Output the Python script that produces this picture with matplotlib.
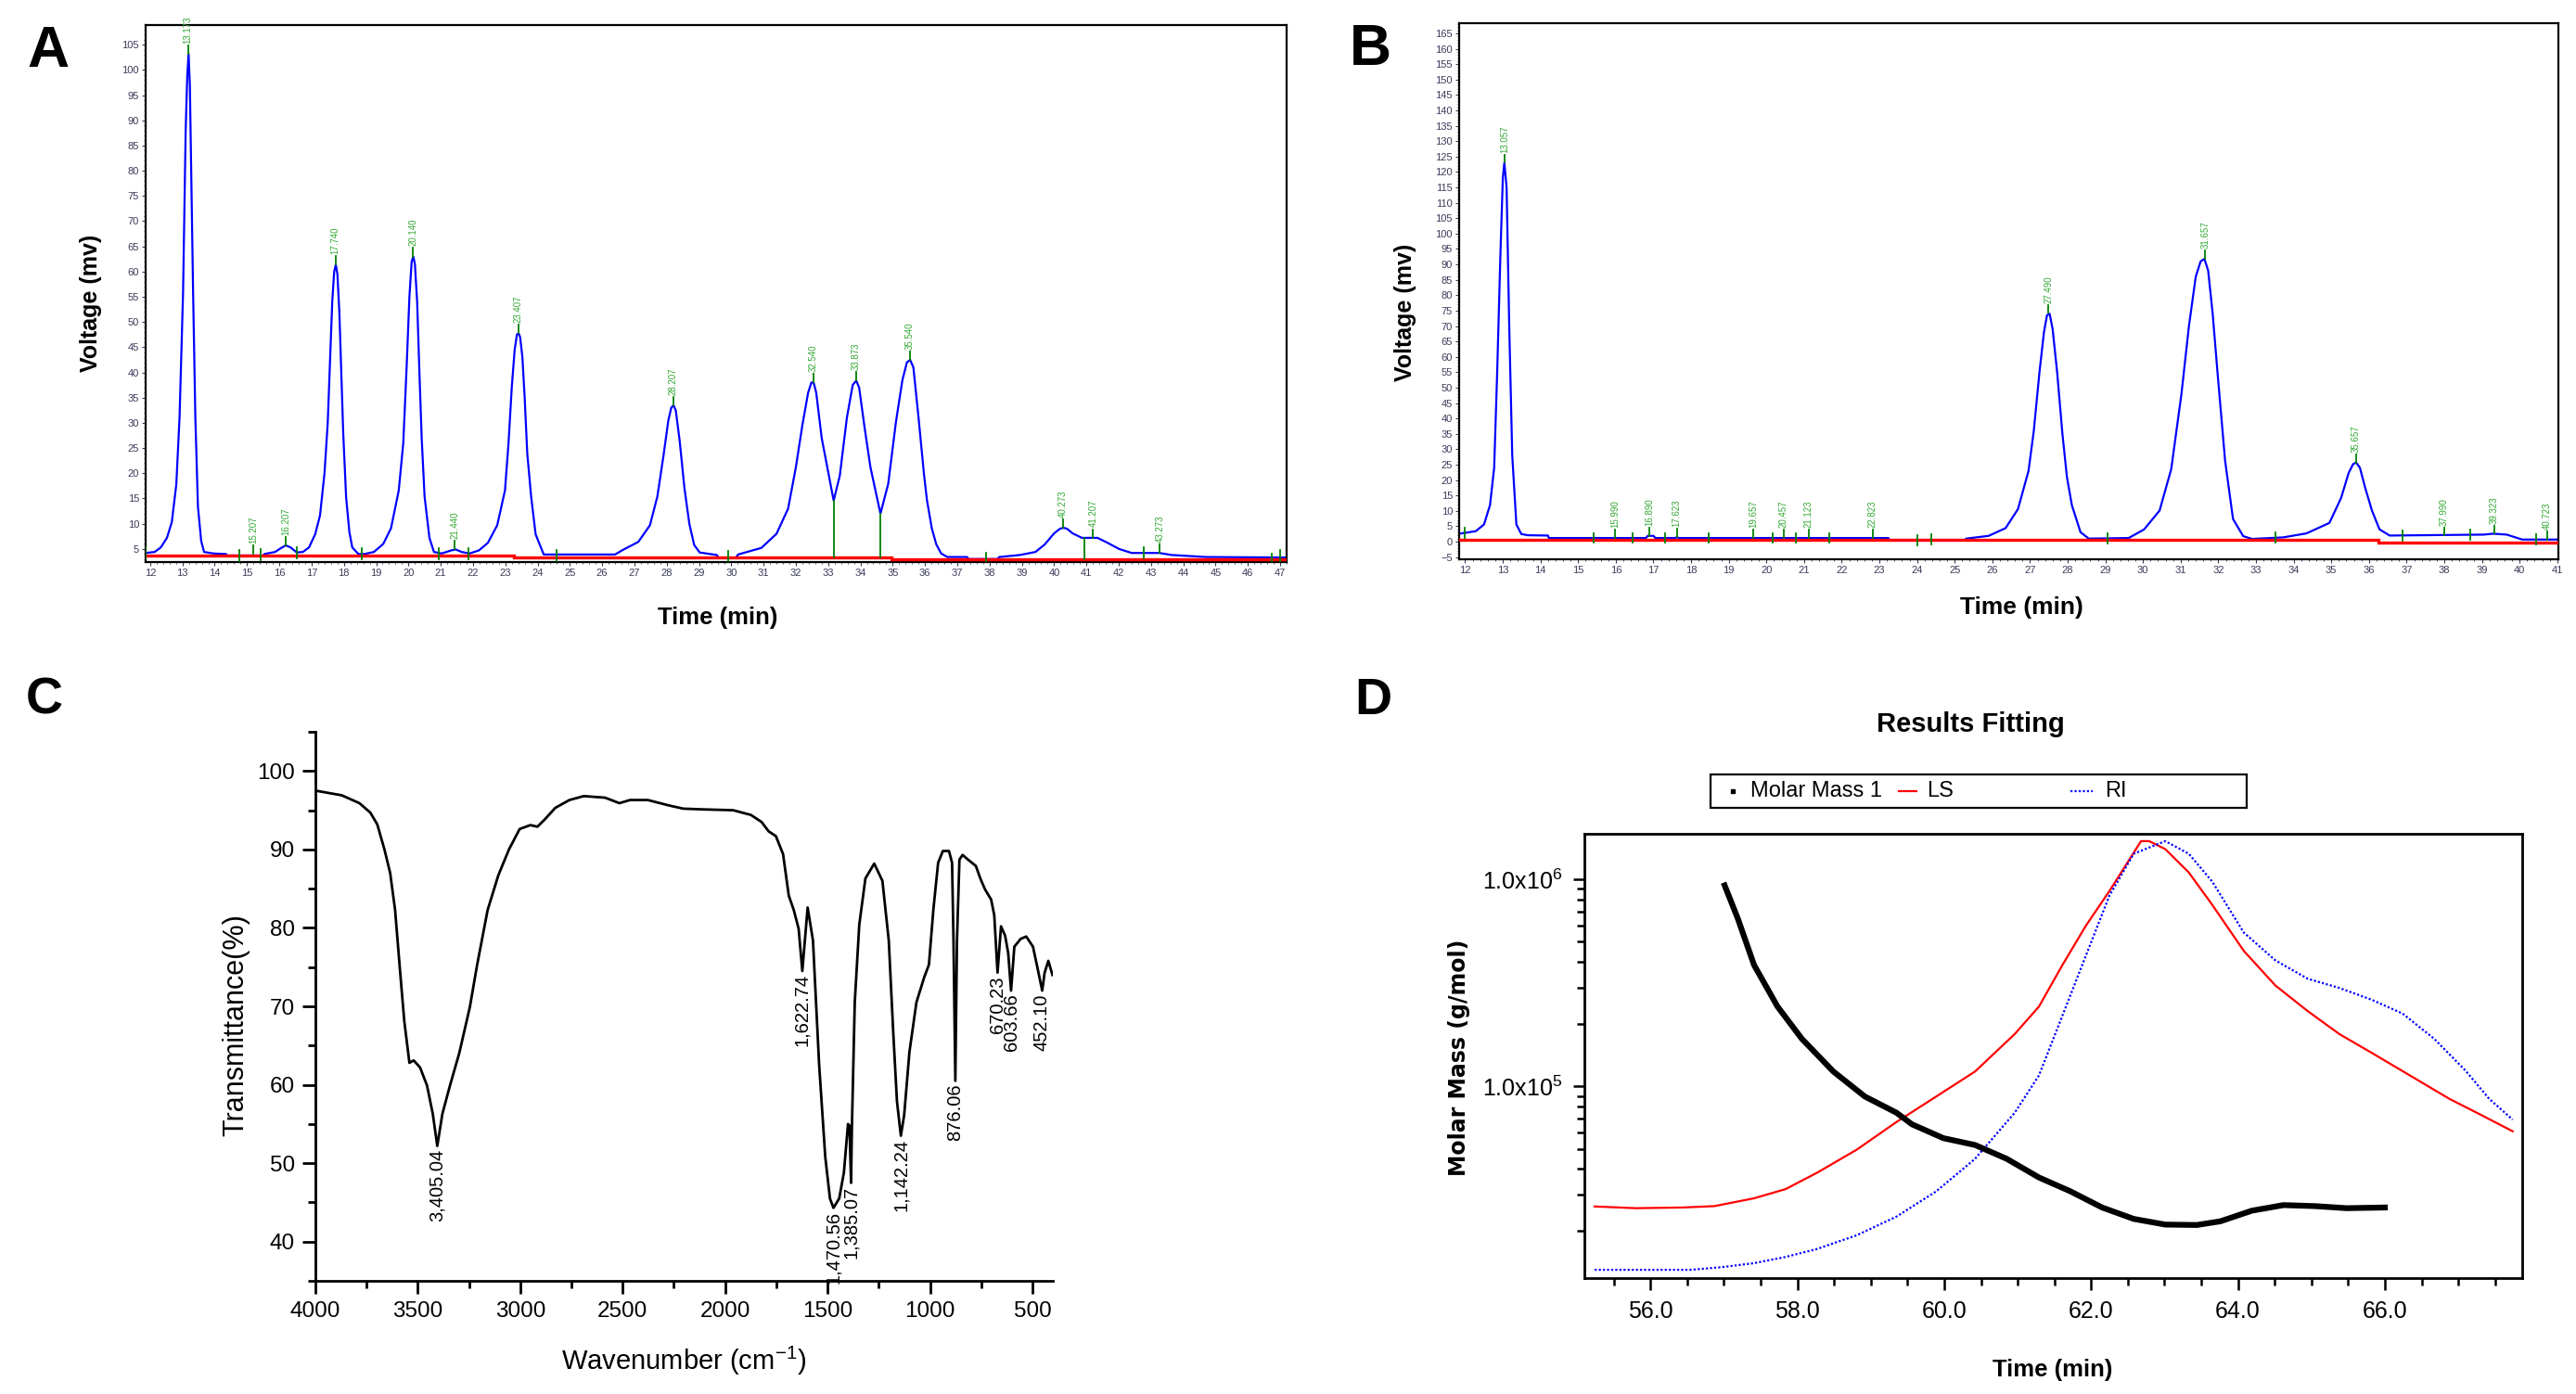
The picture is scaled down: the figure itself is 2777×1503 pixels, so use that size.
import numpy as np
import matplotlib
matplotlib.use("Agg")
import matplotlib.pyplot as plt
from matplotlib.lines import Line2D
from matplotlib.patches import Rectangle
from matplotlib.ticker import FixedLocator, MultipleLocator, NullFormatter

REG = "Liberation Sans"
plt.rcParams["font.family"] = [REG, "DejaVu Sans"]
plt.rcParams["mathtext.fontset"] = "custom"
plt.rcParams["mathtext.rm"] = REG
plt.rcParams["mathtext.it"] = REG

# ---------------- panel A : chromatogram 1 ----------------
a_time = [11.86, 12.14, 12.33, 12.52, 12.67, 12.81, 12.91, 13.02, 13.10, 13.15, 13.19, 13.23, 13.26, 13.33,
          13.40, 13.48, 13.58, 13.67, 13.96, 14.34, 14.40, 15.50, 15.54, 15.87, 16.06, 16.20, 16.35, 16.54,
          16.73, 16.92, 17.11, 17.26, 17.40, 17.50, 17.57, 17.64, 17.70, 17.75, 17.80, 17.86, 17.92, 17.98,
          18.07, 18.17, 18.26, 18.45, 18.64, 18.93, 19.22, 19.46, 19.70, 19.84, 19.95, 20.03, 20.10, 20.15,
          20.20, 20.27, 20.34, 20.41, 20.50, 20.65, 20.79, 21.03, 21.32, 21.46, 21.65, 21.89, 22.18, 22.46,
          22.75, 22.99, 23.10, 23.20, 23.29, 23.36, 23.41, 23.46, 23.53, 23.60, 23.68, 23.80, 23.94, 24.19,
          26.40, 26.64, 27.12, 27.48, 27.71, 27.90, 28.05, 28.14, 28.21, 28.28, 28.40, 28.55, 28.70, 28.85,
          29.02, 29.55, 29.60, 30.15, 30.21, 30.93, 31.40, 31.76, 32.00, 32.20, 32.38, 32.48, 32.55, 32.63,
          32.80, 33.00, 33.17, 33.36, 33.58, 33.76, 33.87, 33.96, 34.13, 34.31, 34.62, 34.86, 35.10, 35.30,
          35.44, 35.54, 35.64, 35.80, 35.97, 36.06, 36.21, 36.35, 36.50, 36.69, 37.30, 37.35, 38.25, 38.30,
          38.94, 39.42, 39.71, 40.00, 40.18, 40.29, 40.40, 40.57, 40.86, 41.34, 41.63, 42.01, 42.40, 43.26,
          43.64, 44.70, 47.20]
a_volt = [4.2, 4.4, 5.3, 7.2, 10.3, 17.8, 31.0, 56.0, 88.0, 99.0, 103.2, 97.0, 85.0, 56.0,
          31.0, 13.4, 6.6, 4.4, 4.1, 4.0, 3.7, 3.7, 4.0, 4.4, 5.2, 5.7, 5.3, 4.3,
          4.4, 5.3, 7.9, 11.6, 20.0, 30.0, 42.0, 54.0, 60.0, 61.4, 59.5, 52.0, 40.0, 28.0,
          15.2, 8.4, 5.3, 4.0, 4.0, 4.4, 6.0, 9.1, 16.6, 26.0, 42.0, 55.0, 62.0, 63.0,
          61.5, 54.0, 40.0, 27.0, 15.4, 7.2, 4.4, 4.1, 4.7, 4.9, 4.4, 4.1, 4.7, 6.2,
          9.7, 16.6, 26.0, 37.0, 44.5, 47.5, 47.8, 47.0, 43.0, 35.0, 24.0, 15.4, 7.9, 3.9,
          3.9, 4.8, 6.4, 9.7, 15.4, 23.5, 30.5, 33.0, 33.5, 32.5, 26.5, 17.0, 10.0, 5.8,
          4.3, 3.8, 3.3, 3.3, 3.9, 5.2, 8.0, 13.0, 21.2, 29.5, 36.0, 38.0, 38.0, 36.0,
          27.0, 20.3, 14.6, 19.5, 31.0, 37.5, 38.4, 37.0, 29.0, 21.2, 12.0, 17.9, 30.2, 38.5,
          42.0, 42.5, 41.0, 31.0, 19.7, 14.7, 9.1, 5.9, 4.1, 3.4, 3.4, 3.0, 3.0, 3.4,
          3.8, 4.4, 5.9, 8.1, 9.0, 9.2, 9.0, 8.1, 7.2, 7.2, 6.3, 5.0, 4.2, 4.2,
          3.8, 3.4, 3.3]
a_base_t = [(11.86, 23.27), (23.27, 34.96), (34.96, 47.20)]
a_base_v = [3.6, 3.25, 3.0]
a_peak_t = [13.173, 15.207, 16.207, 17.740, 20.140, 21.440, 23.407, 28.207, 32.540, 33.873, 35.540,
            40.273, 41.207, 43.273]
a_peak_v = [103.2, 4.0, 5.7, 61.4, 63.0, 4.9, 47.8, 33.5, 38.0, 38.4, 42.5, 9.2, 7.2, 4.2]
a_peak_lab = ["13.173", "15.207", "16.207", "17.740", "20.140", "21.440", "23.407", "28.207",
              "32.540", "33.873", "35.540", "40.273", "41.207", "43.273"]
a_mark_t = [11.86, 14.75, 15.43, 16.55, 18.55, 20.95, 21.85, 24.60, 29.90, 37.90, 42.78, 46.75, 47.00]
a_mark_v = [4.2, 3.7, 3.9, 4.3, 4.0, 4.1, 4.1, 3.6, 3.5, 3.2, 4.2, 3.0, 3.6]
a_drop_t = [33.17, 34.62, 40.95]
a_drop_top = [14.6, 12.0, 7.2]
a_drop_bot = [3.25, 3.25, 3.0]

# ---------------- panel B : chromatogram 2 ----------------
b_time = [11.84, 12.28, 12.50, 12.66, 12.77, 12.85, 12.94, 13.00, 13.04, 13.10, 13.17, 13.25, 13.36, 13.49,
          13.66, 14.20, 14.22, 16.80, 16.85, 17.00, 17.05, 17.58, 17.62, 17.66, 23.24, 23.26, 25.28, 25.30,
          25.90, 26.35, 26.68, 26.96, 27.10, 27.25, 27.37, 27.45, 27.52, 27.60, 27.72, 27.86, 27.98, 28.11,
          28.34, 28.56, 29.62, 30.03, 30.44, 30.75, 31.02, 31.22, 31.40, 31.53, 31.63, 31.73, 31.85, 31.98,
          32.18, 32.39, 32.66, 32.90, 33.72, 34.34, 34.95, 35.26, 35.46, 35.58, 35.66, 35.76, 35.90, 36.08,
          36.28, 36.55, 39.05, 39.30, 39.66, 40.07, 41.03]
b_volt = [2.6, 3.4, 5.6, 11.9, 24.0, 55.0, 95.0, 118.0, 123.0, 115.0, 70.0, 28.0, 5.6, 2.5,
          2.1, 2.0, 1.2, 1.2, 1.9, 1.9, 1.2, 1.2, 1.5, 1.2, 1.2, 0.6, 0.6, 1.0,
          1.9, 4.4, 10.6, 23.0, 36.0, 55.0, 68.0, 73.5, 74.0, 69.0, 55.0, 35.0, 21.0, 11.9,
          3.1, 1.0, 1.2, 4.0, 10.1, 23.6, 47.9, 70.0, 86.0, 91.0, 91.8, 88.0, 74.0, 54.7,
          26.3, 7.4, 1.8, 0.9, 1.4, 2.7, 6.1, 14.2, 22.3, 25.2, 25.7, 24.0, 17.5, 10.1,
          4.0, 2.0, 2.3, 2.6, 2.3, 0.7, 0.7]
b_base_t = [(11.84, 36.25), (36.25, 41.03)]
b_base_v = [0.6, -0.2]
b_peak_t = [13.057, 15.990, 16.890, 17.623, 19.657, 20.457, 21.123, 22.823, 27.490, 31.657, 35.657,
            37.990, 39.323, 40.723]
b_peak_v = [123.0, 1.2, 1.9, 1.5, 1.2, 1.2, 1.2, 1.2, 74.3, 91.8, 25.7, 2.0, 2.6, 0.7]
b_peak_lab = ["13.057", "15.990", "16.890", "17.623", "19.657", "20.457", "21.123", "22.823",
              "27.490", "31.657", "35.657", "37.990", "39.323", "40.723"]
b_mark_t = [12.00, 15.42, 16.45, 17.32, 18.46, 20.17, 20.77, 21.66, 24.01, 24.38, 29.05, 33.52,
            36.90, 38.68, 40.44]
b_mark_v = [2.9, 1.2, 1.2, 1.2, 1.2, 1.2, 1.2, 1.2, 0.5, 0.8, 1.0, 1.3, 2.0, 2.2, 0.7]

# ---------------- panel C : FT-IR ----------------
c_wn = [4000, 3871, 3785, 3732, 3698, 3663, 3635, 3611, 3587, 3566, 3541, 3520, 3489, 3455, 3427, 3405,
        3380, 3343, 3298, 3246, 3211, 3159, 3107, 3055, 3003, 2951, 2916, 2881, 2829, 2760, 2690, 2586,
        2516, 2464, 2377, 2273, 2204, 2100, 1961, 1874, 1822, 1787, 1752, 1717, 1689, 1665, 1641, 1623,
        1597, 1571, 1541, 1511, 1488, 1471, 1443, 1420, 1400, 1393, 1385, 1381, 1367, 1345, 1315, 1272,
        1232, 1201, 1179, 1161, 1142, 1126, 1115, 1100, 1066, 1028, 1005, 983, 960, 937, 907, 892,
        885, 876, 868, 856, 841, 814, 776, 754, 731, 701, 686, 670, 653, 633, 618, 604, 588, 557, 530,
        497, 475, 452, 440, 422, 402]
c_tr = [97.5, 96.9, 95.9, 94.7, 93.2, 90.0, 87.0, 82.3, 74.6, 68.1, 62.8, 63.1, 62.2, 59.9, 56.3, 52.2,
        56.3, 59.9, 64.0, 69.9, 75.2, 82.3, 86.7, 90.0, 92.6, 93.1, 92.9, 93.8, 95.3, 96.3, 96.8, 96.6,
        95.9, 96.3, 96.3, 95.6, 95.2, 95.1, 95.0, 94.4, 93.5, 92.3, 91.7, 89.4, 84.1, 82.3, 79.9, 74.5,
        82.6, 78.4, 62.6, 50.8, 45.5, 44.3, 45.5, 48.8, 55.0, 54.8, 47.5, 54.5, 70.5, 80.4, 86.3, 88.2,
        86.0, 78.4, 66.6, 57.9, 53.5, 56.1, 59.5, 64.2, 70.5, 73.7, 75.3, 82.4, 88.3, 89.8, 89.8, 88.3,
        78.4, 60.5, 78.4, 88.7, 89.3, 88.7, 87.9, 86.3, 84.9, 83.6, 81.6, 74.3, 80.2, 79.0, 76.8, 72.0,
        77.6, 78.6, 78.9, 77.6, 74.9, 72.0, 74.3, 75.8, 74.0]
c_lab_wn = [3405.04, 1622.74, 1470.56, 1385.07, 1142.24, 876.06, 670.23, 603.66, 452.10]
c_lab_tr = [52.2, 74.5, 44.3, 47.5, 53.5, 60.5, 74.3, 72.0, 72.0]
c_lab = ["3,405.04", "1,622.74", "1,470.56", "1,385.07", "1,142.24", "876.06", "670.23", "603.66", "452.10"]

# ---------------- panel D : MALLS ----------------
d_t_ls = [55.24, 55.80, 56.44, 56.87, 57.41, 57.84, 58.27, 58.81, 59.35, 59.89, 60.42, 60.96, 61.29,
          61.61, 61.93, 62.25, 62.68, 62.79, 63.01, 63.33, 63.65, 64.08, 64.51, 64.95, 65.38, 65.81,
          66.34, 66.88, 67.31, 67.74]
d_ls = [2.63e4, 2.58e4, 2.60e4, 2.64e4, 2.88e4, 3.19e4, 3.83e4, 4.95e4, 6.73e4, 8.93e4, 1.18e5,
        1.79e5, 2.43e5, 3.86e5, 5.98e5, 8.79e5, 1.53e6, 1.53e6, 1.40e6, 1.08e6, 7.53e5, 4.51e5,
        3.07e5, 2.31e5, 1.79e5, 1.46e5, 1.13e5, 8.70e4, 7.28e4, 6.07e4]
d_t_ri = [55.24, 56.55, 56.98, 57.41, 57.84, 58.27, 58.81, 59.35, 59.89, 60.42, 60.96, 61.29, 61.61,
          61.93, 62.25, 62.58, 63.01, 63.33, 63.65, 64.08, 64.51, 64.95, 65.38, 65.81, 66.24, 66.67,
          67.10, 67.42, 67.74]
d_ri = [1.30e4, 1.30e4, 1.34e4, 1.40e4, 1.50e4, 1.64e4, 1.91e4, 2.35e4, 3.11e4, 4.47e4, 7.46e4,
        1.13e5, 2.20e5, 4.29e5, 8.36e5, 1.33e6, 1.53e6, 1.33e6, 9.75e5, 5.53e5, 4.06e5, 3.31e5,
        2.99e5, 2.63e5, 2.25e5, 1.70e5, 1.19e5, 8.71e4, 6.91e4]
d_t_mm = [57.01, 57.19, 57.41, 57.73, 58.06, 58.49, 58.92, 59.35, 59.56, 59.99, 60.42, 60.85, 61.29,
          61.72, 62.15, 62.58, 63.01, 63.44, 63.76, 64.19, 64.62, 65.05, 65.48, 66.00]
d_mm = [9.35e5, 6.46e5, 3.86e5, 2.43e5, 1.70e5, 1.18e5, 8.93e4, 7.46e4, 6.56e4, 5.62e4, 5.21e4,
        4.47e4, 3.63e4, 3.11e4, 2.60e4, 2.29e4, 2.15e4, 2.14e4, 2.23e4, 2.51e4, 2.67e4, 2.64e4,
        2.58e4, 2.60e4]
d_leg_lab = ["Molar Mass 1", "LS", "RI"]

W, H = 2777, 1503
fig = plt.figure(figsize=(W / 100, H / 100), dpi=100)
fig.patch.set_facecolor("white")


def fx(px):
    return px / W


def fy(py):
    return 1 - py / H


TICKC = "#3a3a5a"
GREEN = "#008000"
LABG = "#33a833"


def chrom_axes(ax, xlim, ylim, yticks):
    ax.set_xlim(*xlim)
    ax.set_ylim(*ylim)
    ax.xaxis.set_major_locator(MultipleLocator(1))
    ax.xaxis.set_minor_locator(MultipleLocator(0.2))
    ax.yaxis.set_major_locator(FixedLocator(yticks))
    ax.yaxis.set_minor_locator(MultipleLocator(1))
    ax.tick_params(which="major", direction="out", length=3, width=0.8, colors=TICKC, labelsize=8, pad=2)
    ax.tick_params(which="minor", direction="out", length=1.5, width=0.6, colors=TICKC)
    for s in ax.spines.values():
        s.set_linewidth(1.6)


# ---- A
axA = fig.add_axes([fx(157), fy(606), fx(1387 - 157), (606 - 27) / H])
axA.plot(a_time, a_volt, color="#0000ff", lw=1.6, zorder=2)
for (t0, t1), v in zip(a_base_t, a_base_v):
    axA.plot([t0, t1], [v, v], color="#ff0000", lw=2.4, zorder=3)
for t, v in zip(a_mark_t, a_mark_v):
    axA.plot([t, t], [v - 1.1, v + 1.1], color=GREEN, lw=1.3, zorder=4)
for t, v0, v1 in zip(a_drop_t, a_drop_bot, a_drop_top):
    axA.plot([t, t], [v0, v1], color=GREEN, lw=1.3, zorder=4)
for t, v, lab in zip(a_peak_t, a_peak_v, a_peak_lab):
    axA.plot([t, t], [v, v + 1.7], color=GREEN, lw=1.3, zorder=4)
    axA.text(t, v + 2.1, lab, rotation=90, ha="center", va="bottom", fontsize=7, color=LABG)
chrom_axes(axA, (11.86, 47.2), (2.4, 108.9), list(range(5, 106, 5)))

# ---- B
axB = fig.add_axes([fx(1573), fy(603), fx(2758 - 1573), (603 - 25) / H])
axB.plot(b_time, b_volt, color="#0000ff", lw=1.6, zorder=2)
for (t0, t1), v in zip(b_base_t, b_base_v):
    axB.plot([t0, t1], [v, v], color="#ff0000", lw=2.4, zorder=3)
for t, v in zip(b_mark_t, b_mark_v):
    axB.plot([t, t], [v - 1.6, v + 1.6], color=GREEN, lw=1.3, zorder=4)
for t, v, lab in zip(b_peak_t, b_peak_v, b_peak_lab):
    axB.plot([t, t], [v, v + 2.6], color=GREEN, lw=1.3, zorder=4)
    axB.text(t, v + 3.2, lab, rotation=90, ha="center", va="bottom", fontsize=7, color=LABG)
chrom_axes(axB, (11.84, 41.03), (-5.7, 168.3), list(range(-5, 166, 5)))

fig.text(fx(98), fy(327), "Voltage (mv)", rotation=90, ha="center", va="center", fontsize=18, weight="bold")
fig.text(fx(774), fy(666), "Time (min)", ha="center", va="center", fontsize=18.5, weight="bold")
fig.text(fx(1515), fy(337), "Voltage (mv)", rotation=90, ha="center", va="center", fontsize=18, weight="bold")
fig.text(fx(2179), fy(655), "Time (min)", ha="center", va="center", fontsize=19, weight="bold")

# ---- C
axC = fig.add_axes([fx(340), fy(1381), fx(1135 - 340), (1381 - 789) / H])
axC.plot(c_wn, c_tr, color="black", lw=2.0)
for w, t, lab in zip(c_lab_wn, c_lab_tr, c_lab):
    axC.text(w, t - 0.4, lab, rotation=90, ha="center", va="top", fontsize=14.5)
axC.set_xlim(4000, 400)
axC.set_ylim(35, 105)
axC.xaxis.set_major_locator(MultipleLocator(500))
axC.xaxis.set_minor_locator(MultipleLocator(250))
axC.yaxis.set_major_locator(FixedLocator([40, 50, 60, 70, 80, 90, 100]))
axC.yaxis.set_minor_locator(MultipleLocator(5))
axC.spines["top"].set_visible(False)
axC.spines["right"].set_visible(False)
for s in ("left", "bottom"):
    axC.spines[s].set_linewidth(2.0)
axC.tick_params(which="major", direction="out", length=10, width=2.0, labelsize=17.5, pad=6)
axC.tick_params(which="minor", direction="out", length=6, width=2.0)
fig.text(fx(254), fy(1105), "Transmittance(%)", rotation=90, ha="center", va="center", fontsize=22)
fig.text(fx(737), fy(1467), "Wavenumber (cm$^{-1}$)", ha="center", va="center", fontsize=21)

# ---- D
axD = fig.add_axes([fx(1708), fy(1378), fx(2719 - 1708), (1378 - 899) / H])
axD.plot(d_t_ls, d_ls, color="#ff0000", lw=1.6)
axD.plot(d_t_ri, d_ri, color="#0000ff", lw=1.6, ls=(0, (1, 1)))
axD.plot(d_t_mm, d_mm, color="black", lw=4.5)
axD.set_yscale("log")
axD.set_xlim(55.1, 67.87)
axD.set_ylim(1.186e4, 1.66e6)
axD.xaxis.set_major_locator(MultipleLocator(2))
axD.xaxis.set_minor_locator(MultipleLocator(0.5))
axD.xaxis.set_major_formatter(plt.FuncFormatter(lambda v, p: f"{v:.1f}"))
axD.yaxis.set_major_locator(FixedLocator([1e5, 1e6]))
axD.yaxis.set_minor_locator(FixedLocator([k * 1e4 for k in range(2, 10)] + [k * 1e5 for k in range(2, 10)]))
axD.yaxis.set_minor_formatter(NullFormatter())
axD.set_yticklabels(["1.0x10$^{5}$", "1.0x10$^{6}$"])
axD.tick_params(which="major", direction="out", length=9, width=1.8, labelsize=18, pad=8)
axD.tick_params(which="minor", direction="out", length=6, width=1.8)
for s in axD.spines.values():
    s.set_linewidth(2.0)

# legend box of panel D, drawn as in the instrument software
fig.patches.append(Rectangle((fx(1844), fy(871)), fx(2422 - 1844), (871 - 835) / H,
                             transform=fig.transFigure, fill=False, edgecolor="black", lw=1.6))
ly = fy(853)
fig.lines.append(Line2D([fx(1868)], [ly], transform=fig.transFigure, color="black", marker="s", ms=3.5, ls="none"))
fig.lines.append(Line2D([fx(2047), fx(2066)], [ly, ly], transform=fig.transFigure, color="#ff0000", lw=1.6))
fig.lines.append(Line2D([fx(2232), fx(2256)], [ly, ly], transform=fig.transFigure, color="#0000ff", lw=1.6,
                        ls=(0, (1, 1))))
for x0, lab in zip([1887, 2077, 2269], d_leg_lab):
    fig.text(fx(x0), ly, lab, ha="left", va="center", fontsize=17)

fig.text(fx(2124), fy(781), "Results Fitting", ha="center", va="center", fontsize=21, weight="bold")
fig.text(fx(1573), fy(1140), "Molar Mass (g/mol)", rotation=90, ha="center", va="center",
         fontsize=17, weight="bold", family="DejaVu Sans")
fig.text(fx(2213), fy(1477), "Time (min)", ha="center", va="center", fontsize=18.5, weight="bold")

# panel letters
fig.text(fx(52), fy(55), "A", ha="center", va="center", fontsize=45, weight="bold")
fig.text(fx(1477), fy(53), "B", ha="center", va="center", fontsize=45, weight="bold")
fig.text(fx(48), fy(756), "C", ha="center", va="center", fontsize=40, weight="bold")
fig.text(fx(1480), fy(756), "D", ha="center", va="center", fontsize=40, weight="bold")

fig.savefig("out.png", dpi=100, facecolor="white")
